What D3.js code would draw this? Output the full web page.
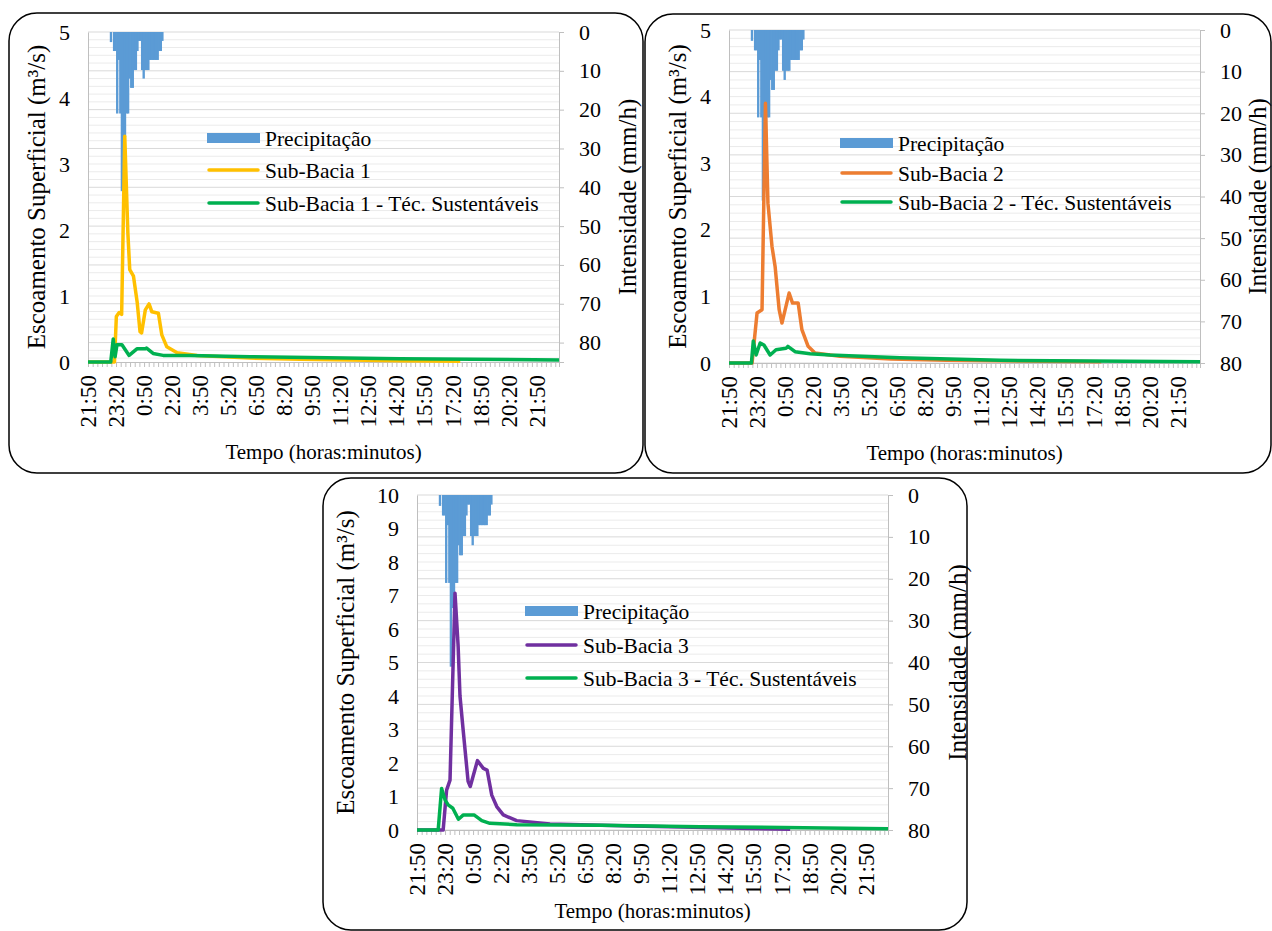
<!DOCTYPE html>
<html>
<head>
<meta charset="utf-8">
<script src="https://cdn.jsdelivr.net/npm/d3@7"></script>
<style>
body { margin: 0; background: #fff; }
</style>
</head>
<body>
<script>
// tempo em minutos contados a partir das 21:50
var rotulosTempo = ["21:50","23:20","0:50","2:20","3:50","5:20","6:50","8:20","9:50",
                    "11:20","12:50","14:20","15:50","17:20","18:50","20:20","21:50"]
var tempoRotulos = [0,90,180,270,360,450,540,630,720,810,900,990,1080,1170,1260,1350,1440]

// hietograma (mm/h), barras de 5 min
var tempoChuva   = [70,75,80,85,90,95,100,105,110,115,120,125,130,135,140,145,150,155,160,165,
                    170,175,180,185,190,195,200,205,210,215,220,225,230,235]
var precipitacao = [2.6,0,4.9,4.9,21,7.2,21,41,27,27,21,21,12,14.4,14.4,9.8,9.8,4.9,2.3,2.3,
                    9.8,12,9.8,9.8,9.8,7.2,7.2,7.2,7.2,7.2,7.2,4.9,4.9,2.3]

// Sub-Bacia 1
var tempoSB1  = [0,85,91,100,108,118,128,134,146,158,167,172,184,196,205,226,237,253,286,350,520,681,1002,1195]
var vazaoSB1  = [0,0,0.69,0.75,0.72,3.42,1.95,1.4,1.3,0.9,0.46,0.44,0.79,0.88,0.76,0.74,0.41,0.23,0.14,0.1,0.06,0.04,0.02,0.01]
var tempoSB1s = [0,73,81,87,93,109,132,157,183,188,209,241,327,520,1002,1512]
var vazaoSB1s = [0,0,0.35,0.08,0.26,0.26,0.1,0.2,0.2,0.21,0.13,0.1,0.1,0.08,0.05,0.03]

// Sub-Bacia 2
var tempoSB2  = [0,74,90,106,117,125,138,148,161,170,193,204,222,234,254,276,356,520,700,1195]
var vazaoSB2  = [0,0,0.75,0.8,3.9,2.4,1.75,1.45,0.8,0.6,1.05,0.9,0.9,0.5,0.25,0.15,0.1,0.06,0.04,0.02]
var tempoSB2s = [0,72,78,87,100,112,132,151,183,189,212,260,324,549,870,1512]
var vazaoSB2s = [0,0,0.33,0.12,0.3,0.27,0.12,0.2,0.22,0.25,0.17,0.14,0.12,0.08,0.04,0.02]

// Sub-Bacia 3
var tempoSB3  = [0,84,95,106,122,132,138,148,164,171,194,213,225,240,256,277,320,427,694,1198]
var vazaoSB3  = [0,0,1.19,1.49,7.07,5.5,4.0,3.0,1.45,1.3,2.07,1.84,1.79,1.04,0.7,0.45,0.28,0.18,0.12,0.02]
var tempoSB3s = [0,68,79,90,100,115,133,149,183,208,234,320,588,909,1512]
var vazaoSB3s = [0,0,1.24,0.9,0.75,0.65,0.32,0.45,0.45,0.28,0.2,0.16,0.14,0.1,0.04]

var TEMPO_MAX = 1512
var AZUL = "#5b9bd5", VERDE = "#00b050", CINZA = "#bfbfbf"
var FONTE = "'Liberation Serif', 'Times New Roman', 'DejaVu Serif', serif"

var svg = d3.select("body").append("svg")
    .attr("width", 1272).attr("height", 931)
    .style("font-family", FONTE)

// texto com a fonte serifada
function texto (g, tam) {
	return g.append("text").style("font-family", FONTE).style("font-size", tam + "px").attr("fill", "#000")
}

// ************************************************************************
// um painel = moldura + eixos + barras + linhas + legenda
// ************************************************************************
function painel (p) {
	var g = svg.append("g")

	g.append("rect")
		.attr("x", p.box[0]).attr("y", p.box[1])
		.attr("width", p.box[2]).attr("height", p.box[3])
		.attr("rx", 28).attr("ry", 28)
		.attr("fill", "none").attr("stroke", "#000").attr("stroke-width", 1.5)

	var x  = d3.scaleLinear().domain([0, TEMPO_MAX]).range([p.x0, p.x1])
	var yL = d3.scaleLinear().domain([0, p.yMax]).range([p.y1, p.y0])
	var yR = d3.scaleLinear().domain([0, p.rMax]).range([p.y0, p.y1])

	// grade secundaria (cada 2 mm/h) e principal (cada 10 mm/h)
	var grade = d3.range(0, p.rMax + 0.001, 2)
	g.selectAll(".gmin").data(grade.filter(function (v) { return v % 10 }))
		.enter().append("line")
		.attr("x1", p.x0).attr("x2", p.x1)
		.attr("y1", yR).attr("y2", yR)
		.attr("stroke", "#ebebeb").attr("stroke-width", 1)
	g.selectAll(".gmaj").data(grade.filter(function (v) { return !(v % 10) }))
		.enter().append("line")
		.attr("x1", p.x0).attr("x2", p.x1)
		.attr("y1", yR).attr("y2", yR)
		.attr("stroke", "#d9d9d9").attr("stroke-width", 1)

	// precipitacao pendurada no topo
	g.selectAll(".chuva").data(precipitacao)
		.enter().append("rect")
		.attr("x", function (d, i) { return x(tempoChuva[i]) })
		.attr("width", function (d, i) { return x(tempoChuva[i] + 5) - x(tempoChuva[i]) + 0.8 })
		.attr("y", p.y0)
		.attr("height", function (d) { return yR(d) - p.y0 })
		.attr("fill", AZUL)

	// eixos
	var eixoX = g.append("g").attr("transform", "translate(0," + p.y1 + ")")
		.call(d3.axisBottom(x).tickValues(d3.range(0, TEMPO_MAX, 15)).tickSize(5).tickFormat(""))
	var eixoL = g.append("g").attr("transform", "translate(" + p.x0 + ",0)")
		.call(d3.axisLeft(yL).ticks(p.yMax).tickSize(0).tickPadding(18).tickFormat(d3.format("d")))
	var eixoR = g.append("g").attr("transform", "translate(" + p.x1 + ",0)")
		.call(d3.axisRight(yR).tickValues(d3.range(0, 81, 10)).tickSize(5).tickPadding(15))
	;[eixoX, eixoL, eixoR].forEach(function (e) {
		e.attr("font-family", null)
		e.selectAll("path, line").attr("stroke", CINZA)
		e.selectAll("text").style("font-family", FONTE).style("font-size", "22px").attr("fill", "#000")
	})

	// rotulos do tempo
	rotulosTempo.forEach(function (d, i) {
		texto(g, 23)
			.attr("transform", "translate(" + x(tempoRotulos[i]) + "," + (p.y1 + 13) + ") rotate(-90)")
			.attr("dy", "0.35em")
			.attr("text-anchor", "end")
			.text(d)
	})

	// hidrogramas
	var linha = function (ts, vs) {
		return d3.line().x(function (d, i) { return x(ts[i]) }).y(function (d) { return yL(d) })(vs)
	}
	g.append("path").attr("d", linha(p.tempo, p.vazao))
		.attr("fill", "none").attr("stroke", p.cor).attr("stroke-width", 3.5).attr("stroke-linejoin", "round")
	g.append("path").attr("d", linha(p.tempoS, p.vazaoS))
		.attr("fill", "none").attr("stroke", VERDE).attr("stroke-width", 3.5).attr("stroke-linejoin", "round")

	// titulos
	texto(g, 25)
		.attr("transform", "translate(" + p.tEsq + "," + (p.y0 + p.y1) / 2 + ") rotate(-90)")
		.attr("text-anchor", "middle").attr("dy", "0.35em")
		.text("Escoamento Superficial (m³/s)")
	texto(g, 25)
		.attr("transform", "translate(" + p.tDir + "," + (p.y0 + p.y1) / 2 + ") rotate(-90)")
		.attr("text-anchor", "middle").attr("dy", "0.35em")
		.text("Intensidade (mm/h)")
	texto(g, 21)
		.attr("x", (p.x0 + p.x1) / 2).attr("y", p.tBase)
		.attr("text-anchor", "middle")
		.text("Tempo (horas:minutos)")

	// legenda
	var lx = p.leg[0], ly = p.leg[1]
	g.append("rect").attr("x", lx).attr("y", ly[0] - 5).attr("width", 53).attr("height", 10).attr("fill", AZUL)
	g.append("line").attr("x1", lx + 2).attr("x2", lx + 51).attr("y1", ly[1]).attr("y2", ly[1])
		.attr("stroke", p.cor).attr("stroke-width", 3.5).attr("stroke-linecap", "round")
	g.append("line").attr("x1", lx + 2).attr("x2", lx + 51).attr("y1", ly[2]).attr("y2", ly[2])
		.attr("stroke", VERDE).attr("stroke-width", 3.5).attr("stroke-linecap", "round")
	var nomes = ["Precipitação", p.nome, p.nome + " - Téc. Sustentáveis"]
	nomes.forEach(function (n, i) {
		texto(g, 21.5).attr("x", lx + 58).attr("y", ly[i]).attr("dy", "0.35em").text(n)
	})
}

painel({ box: [9, 13, 634, 460], x0: 88, x1: 559, y0: 32, y1: 362, yMax: 5, rMax: 85,
         cor: "#ffc000", nome: "Sub-Bacia 1",
         tempo: tempoSB1, vazao: vazaoSB1, tempoS: tempoSB1s, vazaoS: vazaoSB1s,
         tEsq: 36, tDir: 627, tBase: 459, leg: [207, [138, 170, 203]] })

painel({ box: [645, 14, 626, 459], x0: 729, x1: 1200, y0: 30, y1: 363, yMax: 5, rMax: 80,
         cor: "#ed7d31", nome: "Sub-Bacia 2",
         tempo: tempoSB2, vazao: vazaoSB2, tempoS: tempoSB2s, vazaoS: vazaoSB2s,
         tEsq: 677, tDir: 1257, tBase: 460, leg: [840, [143, 173, 202]] })

painel({ box: [323, 478, 644, 452], x0: 417, x1: 888, y0: 495, y1: 830, yMax: 10, rMax: 80,
         cor: "#7030a0", nome: "Sub-Bacia 3",
         tempo: tempoSB3, vazao: vazaoSB3, tempoS: tempoSB3s, vazaoS: vazaoSB3s,
         tEsq: 345, tDir: 957, tBase: 918, leg: [525, [611, 645, 678]] })
</script>
</body>
</html>
